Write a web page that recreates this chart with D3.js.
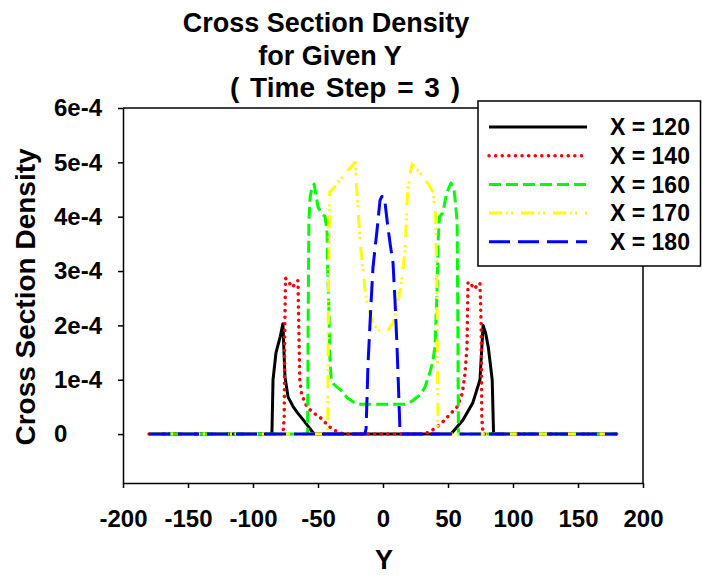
<!DOCTYPE html>
<html>
<head>
<meta charset="utf-8">
<script src="https://cdn.jsdelivr.net/npm/d3@7"></script>
<style>
  body { margin: 0; background: #fff; }
  svg { display: block; font-family: Arial, "Liberation Sans", sans-serif; font-weight: bold; }
</style>
</head>
<body>
<div class="chart"></div>
<script>
// density values are in units of 1e-4
const titleLines = ["Cross Section Density", "for Given Y", "( Time Step = 3 )"];
const xTicks = [-200, -150, -100, -50, 0, 50, 100, 150, 200];
const yTicks = [0, 1, 2, 3, 4, 5, 6];
const yTickLabels = ["0", "1e-4", "2e-4", "3e-4", "4e-4", "5e-4", "6e-4"];
const seriesLabels = ["X = 120", "X = 140", "X = 160", "X = 170", "X = 180"];

const y120 = [-180, -86, -85.4, -84.6, -82.3, -79, -77, -75.4, -73, -69, -66, -60, -54, -52,
  52, 53, 61.5, 69, 74.6, 77, 79, 81, 84, 85, 85.6, 180];
const d120 = [0, 0, 0.05, 1.0, 1.5, 1.8, 2.03, 1.05, 0.68, 0.5, 0.4, 0.22, 0.03, 0,
  0, 0.02, 0.26, 0.57, 1.0, 2.0, 1.85, 1.6, 1.0, 0.05, 0, 0];

const y140 = [-180, -77, -76, -75.5, -75, -72, -70, -68, -66, -65.4, -65, -64.5, -64, -62.5,
  -58.5, -54, -48.5, -41, -35, -30, 30, 35, 41.5, 45, 49, 53, 57, 61, 63, 64.6, 65.4, 68, 70,
  72, 74.6, 75.5, 76, 77, 180];
const d140 = [0, 0, 0.3, 2.0, 2.87, 2.78, 2.7, 2.75, 2.82, 2.82, 2.3, 1.6, 1.0, 0.72,
  0.5, 0.4, 0.31, 0.13, 0.04, 0, 0, 0.03, 0.13, 0.2, 0.3, 0.4, 0.5, 0.75, 1.1, 1.6, 2.8, 2.75, 2.67,
  2.72, 2.78, 2.0, 0.3, 0, 0];

const y160 = [-180, -58, -57.6, -57, -56, -54.5, -53, -51.5, -50, -47, -44.5, -43, -42.5, -41.5,
  -41, -40, -38, -35, -32, -27.5, -22, -17, 0, 17, 22, 28.5, 32, 35, 38, 40, 41.5, 42.5, 43.5,
  46, 49, 52.3, 54.6, 56, 57, 57.6, 58, 180];
const d160 = [0, 0, 2.0, 3.9, 4.37, 4.55, 4.6, 4.4, 4.18, 4.05, 4.0, 3.7, 3.0, 2.2,
  1.5, 1.05, 0.92, 0.86, 0.8, 0.67, 0.58, 0.55, 0.55, 0.55, 0.6, 0.72, 0.85, 1.05, 1.3, 1.6, 2.6, 3.6, 4.0,
  4.07, 4.44, 4.62, 4.5, 4.2, 3.9, 2.0, 0, 0];

const y170 = [-180, -43, -42.5, -42, -41, -37, -33, -29, -25, -21.5, -20, -17.7, -13.8, -11.5,
  -7.7, -4, 0, 4, 7.7, 11, 14.6, 17, 19, 22.3, 26, 31, 35, 38.5, 40.5, 41.5, 42.3, 43, 180];
const d170 = [0, 0, 0.2, 2.5, 4.45, 4.55, 4.68, 4.8, 4.9, 5.0, 4.43, 3.57, 2.65, 2.34,
  2.04, 1.92, 1.88, 1.92, 2.04, 2.35, 2.84, 3.4, 4.5, 4.97, 4.88, 4.73, 4.6, 4.45, 4.0, 2.5, 0.2, 0, 0];

const y180 = [-180, -14, -13, -11.5, -9.2, -7.7, -4.6, -2.3, -1, 1, 3.8, 5.5, 7.7, 9.2, 10.8, 12, 13, 14, 180];
const d180 = [0, 0, 0.1, 1.3, 2.41, 3.07, 3.75, 4.3, 4.37, 4.37, 3.8, 3.5, 3.15, 2.47, 1.6, 0.8, 0.1, 0, 0];

const seriesColors = ["#000000", "#ff0000", "#00ff00", "#ffff00", "#0000ff"];
const seriesDash = [null, "0.1 6.5", "12 5", "13 4 2 3 2 8", "21 8"];

displayChart();

function displayChart() {
  const w = 702;
  const h = 575;
  const left = 123, right = 643, top = 108, bottom = 483;

  const svg = d3
    .select(".chart")
    .append("svg")
    .attr("width", w)
    .attr("height", h);

  const xScale = d3.scaleLinear().domain([-200, 200]).range([left, right]);
  const yScale = d3.scaleLinear().domain([-0.9, 6]).range([bottom, top]);

  const series = [
    { label: seriesLabels[0], ys: y120, vals: d120 },
    { label: seriesLabels[1], ys: y140, vals: d140 },
    { label: seriesLabels[2], ys: y160, vals: d160 },
    { label: seriesLabels[3], ys: y170, vals: d170 },
    { label: seriesLabels[4], ys: y180, vals: d180 }
  ].map((s, i) => ({
    ...s,
    color: seriesColors[i],
    dash: seriesDash[i],
    points: s.ys.map((y, j) => [y, s.vals[j]])
  }));

  // title
  const titleX = [326, 330, 345];
  svg
    .selectAll(".title")
    .data(titleLines)
    .enter()
    .append("text")
    .attr("class", "title")
    .attr("x", (d, i) => titleX[i])
    .attr("y", (d, i) => 32 + i * 32.5)
    .attr("text-anchor", "middle")
    .style("font-size", (d, i) => (i == 2 ? "28px" : "27px"))
    .style("word-spacing", (d, i) => (i == 2 ? "3px" : null))
    .text((d) => d);

  // axes
  const xAxis = d3
    .axisBottom(xScale)
    .tickValues(xTicks)
    .tickFormat((d) => String(d))
    .tickSizeInner(5)
    .tickSizeOuter(0)
    .tickPadding(22);

  const yAxis = d3
    .axisLeft(yScale)
    .tickValues(yTicks)
    .tickFormat((d, i) => yTickLabels[i])
    .tickSizeInner(5)
    .tickSizeOuter(0);

  const gx = svg
    .append("g")
    .attr("transform", "translate(0," + bottom + ")")
    .call(xAxis);
  gx.selectAll("text").style("font-size", "24px").attr("fill", "#000");

  const gy = svg
    .append("g")
    .attr("transform", "translate(" + left + ",0)")
    .call(yAxis);
  gy.selectAll("text")
    .style("font-size", "24px")
    .attr("fill", "#000")
    .attr("text-anchor", "start")
    .attr("x", -69);

  svg.selectAll(".domain, .tick line").attr("stroke", "#000").attr("stroke-width", 1.5);

  // frame top and right
  svg
    .append("path")
    .attr("d", `M${left},${top}H${right}V${bottom}`)
    .attr("fill", "none")
    .attr("stroke", "#000")
    .attr("stroke-width", 1.5);

  // axis titles
  svg
    .append("text")
    .attr("x", 384)
    .attr("y", 569)
    .attr("text-anchor", "middle")
    .style("font-size", "27px")
    .text("Y");

  svg
    .append("text")
    .attr("transform", "translate(35,297) rotate(-90)")
    .attr("text-anchor", "middle")
    .style("font-size", "28px")
    .text("Cross Section Density");

  // lines
  const line = d3
    .line()
    .x((d) => xScale(d[0]))
    .y((d) => yScale(d[1]));

  svg
    .selectAll(".series")
    .data(series)
    .enter()
    .append("path")
    .attr("class", "series")
    .attr("d", (d) => line(d.points))
    .attr("fill", "none")
    .attr("stroke", (d) => d.color)
    .attr("stroke-width", (d, i) => (i == 1 ? 3.5 : 3))
    .attr("stroke-linecap", (d, i) => (i == 1 ? "round" : "butt"))
    .attr("stroke-linejoin", "round")
    .attr("stroke-dasharray", (d) => d.dash);

  // legend
  const legend = svg.append("g");
  legend
    .append("rect")
    .attr("x", 478)
    .attr("y", 101)
    .attr("width", 222.5)
    .attr("height", 165)
    .attr("fill", "#fff")
    .attr("stroke", "#000")
    .attr("stroke-width", 1.5);

  const rows = legend
    .selectAll(".row")
    .data(series)
    .enter()
    .append("g")
    .attr("class", "row")
    .attr("transform", (d, i) => `translate(0,${127 + i * 28.7})`);

  rows
    .append("line")
    .attr("x1", 489)
    .attr("x2", 587)
    .attr("stroke", (d) => d.color)
    .attr("stroke-width", (d, i) => (i == 1 ? 3.5 : 3))
    .attr("stroke-linecap", (d, i) => (i == 1 ? "round" : "butt"))
    .attr("stroke-dasharray", (d) => d.dash);

  rows
    .append("text")
    .attr("x", 610)
    .attr("dy", "0.36em")
    .style("font-size", "23px")
    .text((d) => d.label);
}
</script>
</body>
</html>
